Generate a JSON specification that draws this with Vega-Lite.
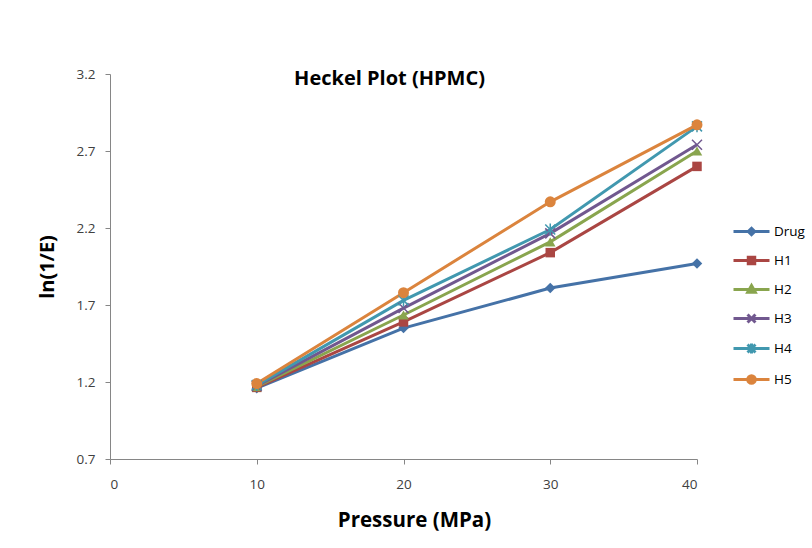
{
  "$schema": "https://vega.github.io/schema/vega-lite/v6.json",
  "width": 587,
  "height": 385,
  "autosize": {"type": "none"},
  "padding": {"left": 110, "top": 74, "right": 115, "bottom": 89},
  "background": "white",
  "config": {"view": {"stroke": null}, "font": "Open Sans"},
  "title": {
    "text": "Heckel Plot (HPMC)",
    "font": "Open Sans",
    "fontSize": 20,
    "fontWeight": "bold",
    "color": "#000000",
    "anchor": "middle",
    "frame": "group",
    "baseline": "middle",
    "offset": -32,
    "dx": -14
  },
  "data": {
    "values": [
      {"series": "Drug", "pressure": 10, "value": 1.16},
      {"series": "Drug", "pressure": 20, "value": 1.55},
      {"series": "Drug", "pressure": 30, "value": 1.81},
      {"series": "Drug", "pressure": 40, "value": 1.97},
      {"series": "H1", "pressure": 10, "value": 1.165},
      {"series": "H1", "pressure": 20, "value": 1.59},
      {"series": "H1", "pressure": 30, "value": 2.04},
      {"series": "H1", "pressure": 40, "value": 2.6},
      {"series": "H2", "pressure": 10, "value": 1.17},
      {"series": "H2", "pressure": 20, "value": 1.635},
      {"series": "H2", "pressure": 30, "value": 2.11},
      {"series": "H2", "pressure": 40, "value": 2.7},
      {"series": "H3", "pressure": 10, "value": 1.175},
      {"series": "H3", "pressure": 20, "value": 1.68},
      {"series": "H3", "pressure": 30, "value": 2.165},
      {"series": "H3", "pressure": 40, "value": 2.74},
      {"series": "H4", "pressure": 10, "value": 1.18},
      {"series": "H4", "pressure": 20, "value": 1.73},
      {"series": "H4", "pressure": 30, "value": 2.19},
      {"series": "H4", "pressure": 40, "value": 2.86},
      {"series": "H5", "pressure": 10, "value": 1.19},
      {"series": "H5", "pressure": 20, "value": 1.78},
      {"series": "H5", "pressure": 30, "value": 2.37},
      {"series": "H5", "pressure": 40, "value": 2.87}
    ]
  },
  "encoding": {
    "x": {
      "field": "pressure",
      "type": "quantitative",
      "scale": {"domain": [0, 40], "nice": false, "zero": false},
      "axis": {
        "title": "Pressure (MPa)",
        "values": [0, 10, 20, 30, 40],
        "grid": false,
        "domainColor": "#868686",
        "tickColor": "#868686",
        "tickSize": 5,
        "labelFont": "Open Sans",
        "labelFontSize": 13.5,
        "labelColor": "#404040",
        "labelPadding": 13,
        "titleFont": "Open Sans",
        "titleFontSize": 20.5,
        "titleFontWeight": "bold",
        "titleColor": "#000000",
        "titlePadding": 20,
        "titleX": 304
      }
    },
    "y": {
      "field": "value",
      "type": "quantitative",
      "scale": {"domain": [0.7, 3.2], "nice": false, "zero": false},
      "axis": {
        "title": "ln(1/E)",
        "values": [0.7, 1.2, 1.7, 2.2, 2.7, 3.2],
        "format": ".1f",
        "grid": false,
        "domainColor": "#868686",
        "tickColor": "#868686",
        "tickSize": 5,
        "labelFont": "Open Sans",
        "labelFontSize": 13.5,
        "labelColor": "#404040",
        "labelPadding": 10,
        "titleFont": "Open Sans",
        "titleFontSize": 20,
        "titleFontWeight": "bold",
        "titleColor": "#000000",
        "titlePadding": 19
      }
    },
    "color": {
      "field": "series",
      "type": "nominal",
      "scale": {
        "domain": ["Drug", "H1", "H2", "H3", "H4", "H5"],
        "range": ["#4572A7", "#AA4643", "#89A54E", "#71588F", "#4198AF", "#DB843D"]
      },
      "legend": {
        "title": null,
        "orient": "none",
        "legendX": 622,
        "legendY": 138,
        "padding": 0,
        "symbolSize": 1296,
        "rowPadding": -4.6,
        "labelOffset": 3,
        "labelFont": "Open Sans",
        "labelFontSize": 13.5,
        "labelColor": "#000000",
        "encode": {
          "symbols": {
            "update": {
              "shape": {"signal": "datum.value === 'Drug' ? 'M-1,0L1,0M0,-0.18L0.18,0L0,0.18L-0.18,0Z' : datum.value === 'H1' ? 'M-1,0L1,0M-0.18,-0.18L0.18,-0.18L0.18,0.18L-0.18,0.18Z' : datum.value === 'H2' ? 'M-1,0L1,0M0,-0.22L0.21,0.15L-0.21,0.15Z' : datum.value === 'H3' ? 'M-1,0L1,0M-0.22,-0.22L0.22,0.22M-0.22,0.22L0.22,-0.22' : datum.value === 'H4' ? 'M-1,0L1,0M-0.22,-0.22L0.22,0.22M-0.22,0.22L0.22,-0.22M0,-0.28L0,0.28' : 'M-1,0L1,0M0.21,0A0.21,0.21 0 1,1 -0.21,0A0.21,0.21 0 1,1 0.21,0Z'"},
              "size": {"value": 1296},
              "strokeWidth": {"value": 3},
              "fill": {"signal": "scale('color', datum.value)"},
              "stroke": {"signal": "scale('color', datum.value)"},
              "opacity": {"value": 1},
              "fillOpacity": {"value": 1},
              "strokeOpacity": {"value": 1}
            }
          }
        }
      }
    }
  },
  "layer": [
    {
      "mark": {"type": "line", "strokeWidth": 3}
    },
    {
      "transform": [{"filter": {"field": "series", "oneOf": ["Drug"]}}],
      "mark": {"type": "point", "filled": true, "opacity": 1, "size": 110, "shape": "diamond"}
    },
    {
      "transform": [{"filter": {"field": "series", "oneOf": ["H1"]}}],
      "mark": {"type": "point", "filled": true, "opacity": 1, "size": 90, "shape": "square"}
    },
    {
      "transform": [{"filter": {"field": "series", "oneOf": ["H2"]}}],
      "mark": {"type": "point", "filled": true, "opacity": 1, "size": 110, "shape": "triangle-up"}
    },
    {
      "transform": [{"filter": {"field": "series", "oneOf": ["H3"]}}],
      "mark": {"type": "point", "filled": false, "opacity": 1, "size": 100, "strokeWidth": 1.5, "shape": "M-1,-1L1,1M-1,1L1,-1"}
    },
    {
      "transform": [{"filter": {"field": "series", "oneOf": ["H4"]}}],
      "mark": {"type": "point", "filled": false, "opacity": 1, "size": 100, "strokeWidth": 1.5, "shape": "M-1,-1L1,1M-1,1L1,-1M0,-1.2L0,1.2"}
    },
    {
      "transform": [{"filter": {"field": "series", "oneOf": ["H5"]}}],
      "mark": {"type": "point", "filled": true, "opacity": 1, "size": 120, "shape": "circle"}
    }
  ]
}
